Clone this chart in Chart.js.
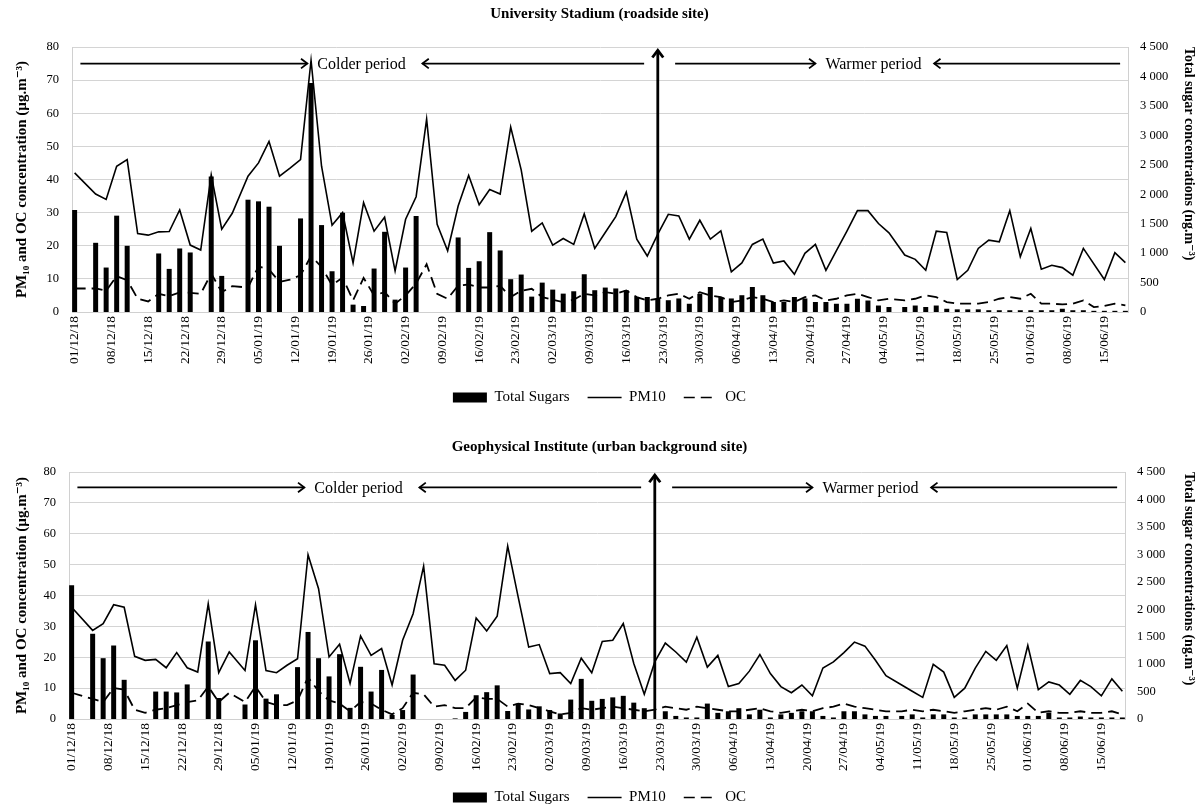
<!DOCTYPE html>
<html>
<head>
<meta charset="utf-8">
<script src="https://cdn.jsdelivr.net/npm/chart.js@4.4.1/dist/chart.umd.min.js"></script>
<style>
  html, body { margin: 0; padding: 0; background: #fff; overflow: hidden; width: 1199px; height: 805px; }
  .panel { position: absolute; left: 0; width: 1199px; }
  #p1 { top: 0; height: 415px; }
  #p2 { top: 415px; height: 400px; }
</style>
</head>
<body>
<div class="panel" id="p1"><canvas id="c1" width="1199" height="415"></canvas></div>
<div class="panel" id="p2"><canvas id="c2" width="1199" height="400"></canvas></div>
<script>
// Sampling days, counted from 01/12/2018
const sampleDays = [
  0, 4, 6, 8, 10, 12, 14, 16, 18, 20, 22, 24, 26, 28, 30,
  33, 35, 37, 39, 41, 43, 45, 47, 49, 51, 53, 55, 57, 59, 61, 63, 65, 67, 69, 71,
  73, 75, 77, 79, 81, 83, 85, 87, 89, 91, 93, 95, 97,
  99, 101, 103, 105, 107, 109, 111, 113, 115, 117, 119, 121, 123, 125, 127, 129,
  131, 133, 135, 137, 139, 141, 143, 145, 147, 149, 151, 153, 155,
  158, 160, 162, 164, 166, 168, 170, 172, 174, 176, 178, 180, 182, 184, 186, 188,
  190, 192, 194, 196, 198, 200
];
const totalDays = 201;

// University Stadium (roadside site)
const usPM10 = [
  42, 35.6, 34, 44, 46, 23.7, 23.2, 24.2, 24.3, 30.8, 20.2, 18.7, 41.4, 25, 29.8,
  41, 45, 51.5, 41, 43.4, 46, 76, 44, 26.2, 30, 14.8, 33, 24.4, 28.6, 12.4, 28, 34.8, 58.2, 26.5, 18.5,
  32, 41.2, 32.4, 37, 35.6, 55.8, 42.9, 24.4, 26.9, 20.2, 22.2, 20.4, 29.6,
  19.2, 24, 28.8, 36.2, 22, 16.9, 23.5, 29.5, 29, 22, 27.7, 22, 24.5, 12.1, 14.8, 20.4,
  22, 14.8, 15.4, 11.4, 17.7, 20.4, 12.6, 18.5, 24.4, 30.6, 30.6, 26.7, 23.9,
  17.2, 15.9, 12.6, 24.4, 24, 9.8, 12.6, 19.2, 21.7, 21.2, 30.6, 16.7, 25.2, 12.9, 14.1, 13.4,
  11.1, 19.2, null, 9.8, 17.9, 14.9
];
const usOC = [
  7.1, 7.1, 6.4, 10.8, 9.6, 4, 3.2, 5.5, 4.8, 5.9, 5.8, 5.5, 11.6, 6, 7.8,
  7.4, 13.8, 12.8, 9.1, 9.8, 11.1, 16.9, 13.6, 8.1, 10.4, 3.5, 10.3, 5, 6, 2.5, 5, 8.6, 14.4, 5.5, 4,
  8, 8.3, 7.4, 7.4, 7.9, 4.5, 6.4, 7, 4.5, 3.7, 3, 3.7, 5.5,
  5, 6, 5.5, 6.5, 4.5, 3.5, 4, 5, 5.5, 4, 6, 5, 4.5, 3, 3.5, 4.5,
  4, 3, 3.5, 3, 4.5, 5, 3.5, 4, 5, 5.5, 4.5, 3.5, 4,
  3.5, 4, 5, 4.5, 3, 2.5, 2.5, 2.5, 3, 4, 4.5, 4, 5.5, 2.5, 2.5, 2.3,
  2.5, 3.5, 1.5, 1.8, 2.5, 2
];
const usSugars = [
  1732, 1175, 755, 1636, 1124, null, null, 994, 732, 1079, 1011, null, 2300, 613, null,
  1907, 1879, 1788, 1124, null, 1589, 3887, 1476, 692, 1685, 125, 102, 738, 1362, 210, 755, 1630, null, null, null,
  1266, 749, 862, 1356, 1045, 557, 636, 261, 499, 380, 312, 352, 641,
  370, 415, 400, 370, 255, 255, 230, 200, 230, 140, 310, 425, 255, 230, 285, 425,
  285, 170, 170, 255, 230, 170, 170, 140, 140, 225, 195, 110, 85,
  85, 110, 85, 110, 55, 45, 45, 45, 30, 30, 30, 30, 30, 30, 30, 55,
  30, 30, 20, 20, 20, 20
];

// Geophysical Institute (urban background site)
const giPM10 = [
  36.2, 28.7, 30.9, 37, 36.2, 20.3, 19, 19.3, 16.6, 21.5, 16.6, 15.2, 37.3, 15, 21.7,
  15.7, 37, 15.7, 15, 17.4, 19.5, 53.2, 42.2, 20.1, 24.2, 11.5, 26.9, 20.6, 22.8, 11, 25.5, 34.1, 49.5, 17.9, 17.4,
  12.5, 15.8, 32.7, 28.5, 33.3, 56, 39.5, 23.3, 24.1, 14.7, 15, 11.5, 19.7,
  15, 25.1, 25.5, 30.9, 18, 8, 18.5, 24.6, 21.7, 18.4, 26.5, 16.8, 20.6, 10.5, 11.5, 15.5,
  20.9, 14.7, 10.5, 8.5, 11, 7.5, 16.5, 18.5, 21.5, 24.9, 23.6, 19, 14,
  11, 9, 7, 17.7, 15.2, 7, 10, 16.5, 21.9, 19, 23.8, 10, 23.8, 9.5, 12, 11,
  8, 12.5, 10.5, 7.5, 13, 9
];
const giOC = [
  8.5, 6.5, 5.5, 10, 9.5, 3, 2, 3, 3.5, 4.5, 5.5, 6, 10.5, 5.5, 8.5,
  5.5, 10.5, 5.5, 4.5, 4.5, 6, 13.5, 9, 6, 5, 2.5, 5.5, 5, 3, 1.5, 3.5, 8.5, 8, 4, 4.5,
  3.5, 3.5, 7, 6.5, 6.5, 4, 5, 4.5, 3.5, 2.5, 1.5, 2, 3.5,
  3, 3.5, 4, 3.5, 3, 2.5, 3, 4, 3.5, 3, 4, 3.5, 3, 2.5, 2.5, 3,
  3.5, 2.5, 2, 2.5, 3, 2.5, 3.5, 4, 5, 4, 3.5, 3, 2.5,
  2.5, 3, 2.5, 3, 2.5, 2, 2.5, 3, 3.5, 3, 4, 2.5, 5, 2, 2.5, 2,
  2, 2.5, 2, 2, 2.5, 1.5
];
const giSugars = [
  2436, 1553, 1108, 1339, 714, null, null, 500, 500, 484, 630, null, 1412, 383, null,
  264, 1434, 371, 450, null, 945, 1586, 1108, 776, 1181, 203, 951, 500, 894, 73, 163, 810, null, null, null,
  11, 129, 433, 489, 613, 146, 281, 174, 231, 163, 101, 354, 731,
  332, 366, 394, 422, 298, 197, null, 141, 56, 28, 28, 281, 112, 141, 197, 84,
  169, 28, 84, 112, 141, 141, 56, 28, 141, 141, 84, 56, 56,
  56, 84, 28, 84, 84, 28, 28, 84, 84, 84, 84, 56, 56, 56, 112, 28,
  28, 45, 28, 28, 28, 28
];

// Colder / warmer period markers (positions in days, arrows at PM level 75)
const arrowLevel = 75;
const splitDay = 111;
const splitTop = 79;
const periodArrows = [
  { from: 1.1, to: 44.3 },
  { from: 108.4, to: 66.2 },
  { from: 114.3, to: 141 },
  { from: 199, to: 163.6 }
];
const periodLabels = [
  { text: 'Colder period', day: 46.2 },
  { text: 'Warmer period', day: 142.9 }
];

const FONT = "'Liberation Serif', 'DejaVu Serif', serif";
Chart.defaults.font.family = FONT;
Chart.defaults.color = '#000';

function dayLabel(n) {
  const d = new Date(Date.UTC(2018, 11, 1 + n));
  const dd = String(d.getUTCDate()).padStart(2, '0');
  const mm = String(d.getUTCMonth() + 1).padStart(2, '0');
  const yy = String(d.getUTCFullYear()).slice(2);
  return dd + '/' + mm + '/' + yy;
}
const dateLabels = Array.from({ length: totalDays }, (_, i) => dayLabel(i));

function toPoints(values) {
  const pts = [];
  sampleDays.forEach((d, i) => {
    if (values[i] !== null && values[i] !== undefined) pts.push({ x: dayLabel(d), y: values[i] });
  });
  return pts;
}

function drawArrow(ctx, x0, y0, x1, y1, head, w) {
  const ang = Math.atan2(y1 - y0, x1 - x0);
  ctx.lineWidth = w;
  ctx.beginPath();
  ctx.moveTo(x0, y0);
  ctx.lineTo(x1, y1);
  ctx.stroke();
  ctx.beginPath();
  ctx.moveTo(x1 - head * Math.cos(ang - 0.65), y1 - head * Math.sin(ang - 0.65));
  ctx.lineTo(x1, y1);
  ctx.lineTo(x1 - head * Math.cos(ang + 0.65), y1 - head * Math.sin(ang + 0.65));
  ctx.stroke();
}

const periodMarks = {
  id: 'periodMarks',
  afterDatasetsDraw(chart) {
    const { ctx } = chart;
    const xs = chart.scales.x, ys = chart.scales.y;
    const yA = ys.getPixelForValue(arrowLevel);
    ctx.save();
    ctx.strokeStyle = '#000';
    ctx.fillStyle = '#000';
    ctx.lineCap = 'butt';
    periodArrows.forEach(a => {
      drawArrow(ctx, xs.getPixelForValue(a.from), yA, xs.getPixelForValue(a.to), yA, 8, 1.8);
    });
    ctx.font = '16px ' + FONT;
    ctx.textAlign = 'left';
    ctx.textBaseline = 'middle';
    periodLabels.forEach(l => ctx.fillText(l.text, xs.getPixelForValue(l.day), yA + 1));
    const xSplit = xs.getPixelForValue(splitDay);
    drawArrow(ctx, xSplit, ys.getPixelForValue(0), xSplit, ys.getPixelForValue(splitTop), 9, 2.8);
    ctx.restore();
  }
};

function thousands(v) {
  if (v < 1000) return String(v);
  return Math.floor(v / 1000) + ' ' + String(v % 1000).padStart(3, '0');
}

function makePanel(canvasId, title, pm10, oc, sugars, geo) {
  return new Chart(document.getElementById(canvasId), {
    data: {
      labels: dateLabels,
      datasets: [
        {
          type: 'bar', label: 'Total Sugars', data: toPoints(sugars), yAxisID: 'y1',
          backgroundColor: '#000', borderWidth: 0, barPercentage: 0.95, categoryPercentage: 1, order: 2
        },
        {
          type: 'line', label: 'PM10', data: toPoints(pm10), yAxisID: 'y',
          borderColor: '#000', borderWidth: 1.6, pointRadius: 0, tension: 0, spanGaps: true, fill: false, order: 1
        },
        {
          type: 'line', label: 'OC', data: toPoints(oc), yAxisID: 'y',
          borderColor: '#000', borderWidth: 1.8, borderDash: [11, 6], pointRadius: 0, tension: 0, spanGaps: true, fill: false, order: 0
        }
      ]
    },
    options: {
      responsive: false,
      animation: false,
      events: [],
      layout: { padding: { left: 0, right: 0, top: 0, bottom: 0 } },
      plugins: {
        tooltip: { enabled: false },
        title: {
          display: true, text: title, color: '#000',
          font: { family: FONT, size: 15, weight: 'bold' },
          padding: geo.titlePad
        },
        legend: {
          position: 'bottom',
          labels: {
            usePointStyle: true, pointStyleWidth: 34, boxHeight: 10, padding: 18,
            color: '#000', font: { family: FONT, size: 15 },
            generateLabels: chart => chart.data.datasets.map((ds, i) => ({
              text: ds.label,
              fillStyle: '#000',
              strokeStyle: '#000',
              lineWidth: ds.type === 'bar' ? 0 : 1.6,
              lineDash: ds.borderDash || [],
              pointStyle: ds.type === 'bar' ? 'rect' : 'line',
              hidden: false,
              datasetIndex: i,
              fontColor: '#000'
            }))
          }
        }
      },
      scales: {
        x: {
          type: 'category',
          offset: true,
          grid: { display: false, drawTicks: false },
          border: { display: true, color: '#d0d0d0' },
          ticks: {
            autoSkip: false, minRotation: 90, maxRotation: 90, padding: 4,
            color: '#000', font: { family: FONT, size: 13.5 },
            callback(value, index) { return index % 7 === 0 ? this.getLabelForValue(value) : ''; }
          },
          afterFit(scale) { scale.height = geo.xH; }
        },
        y: {
          position: 'left', min: 0, max: 80,
          grid: { color: '#d4d4d4', drawTicks: false },
          border: { display: true, color: '#d0d0d0' },
          ticks: { stepSize: 10, padding: 13, color: '#000', font: { family: FONT, size: 12.5 } },
          title: {
            display: true, text: 'PM₁₀ and OC concentration (µg.m⁻³)', color: '#000',
            font: { family: FONT, size: 15, weight: 'bold' }, padding: { top: 13, bottom: 0 }
          },
          afterFit(scale) { scale.width = geo.leftW; }
        },
        y1: {
          position: 'right', min: 0, max: 4500,
          grid: { display: false, drawTicks: false },
          border: { display: true, color: '#d0d0d0' },
          ticks: { stepSize: 500, padding: 12, color: '#000', font: { family: FONT, size: 12.5 }, callback: v => thousands(v) },
          title: {
            display: true, text: 'Total sugar concentrations (ng.m⁻³)', color: '#000', align: 'end',
            font: { family: FONT, size: 14, weight: 'bold' }, padding: { top: 2, bottom: 0 }
          },
          afterFit(scale) { scale.width = geo.rightW; }
        }
      }
    },
    plugins: [periodMarks]
  });
}

makePanel('c1', 'University Stadium (roadside site)', usPM10, usOC, usSugars,
  { leftW: 72, rightW: 71, titlePad: { top: 5, bottom: 24 }, xH: 60 });
makePanel('c2', 'Geophysical Institute (urban background site)', giPM10, giOC, giSugars,
  { leftW: 69, rightW: 74, titlePad: { top: 23, bottom: 16 }, xH: 53 });
</script>
</body>
</html>
